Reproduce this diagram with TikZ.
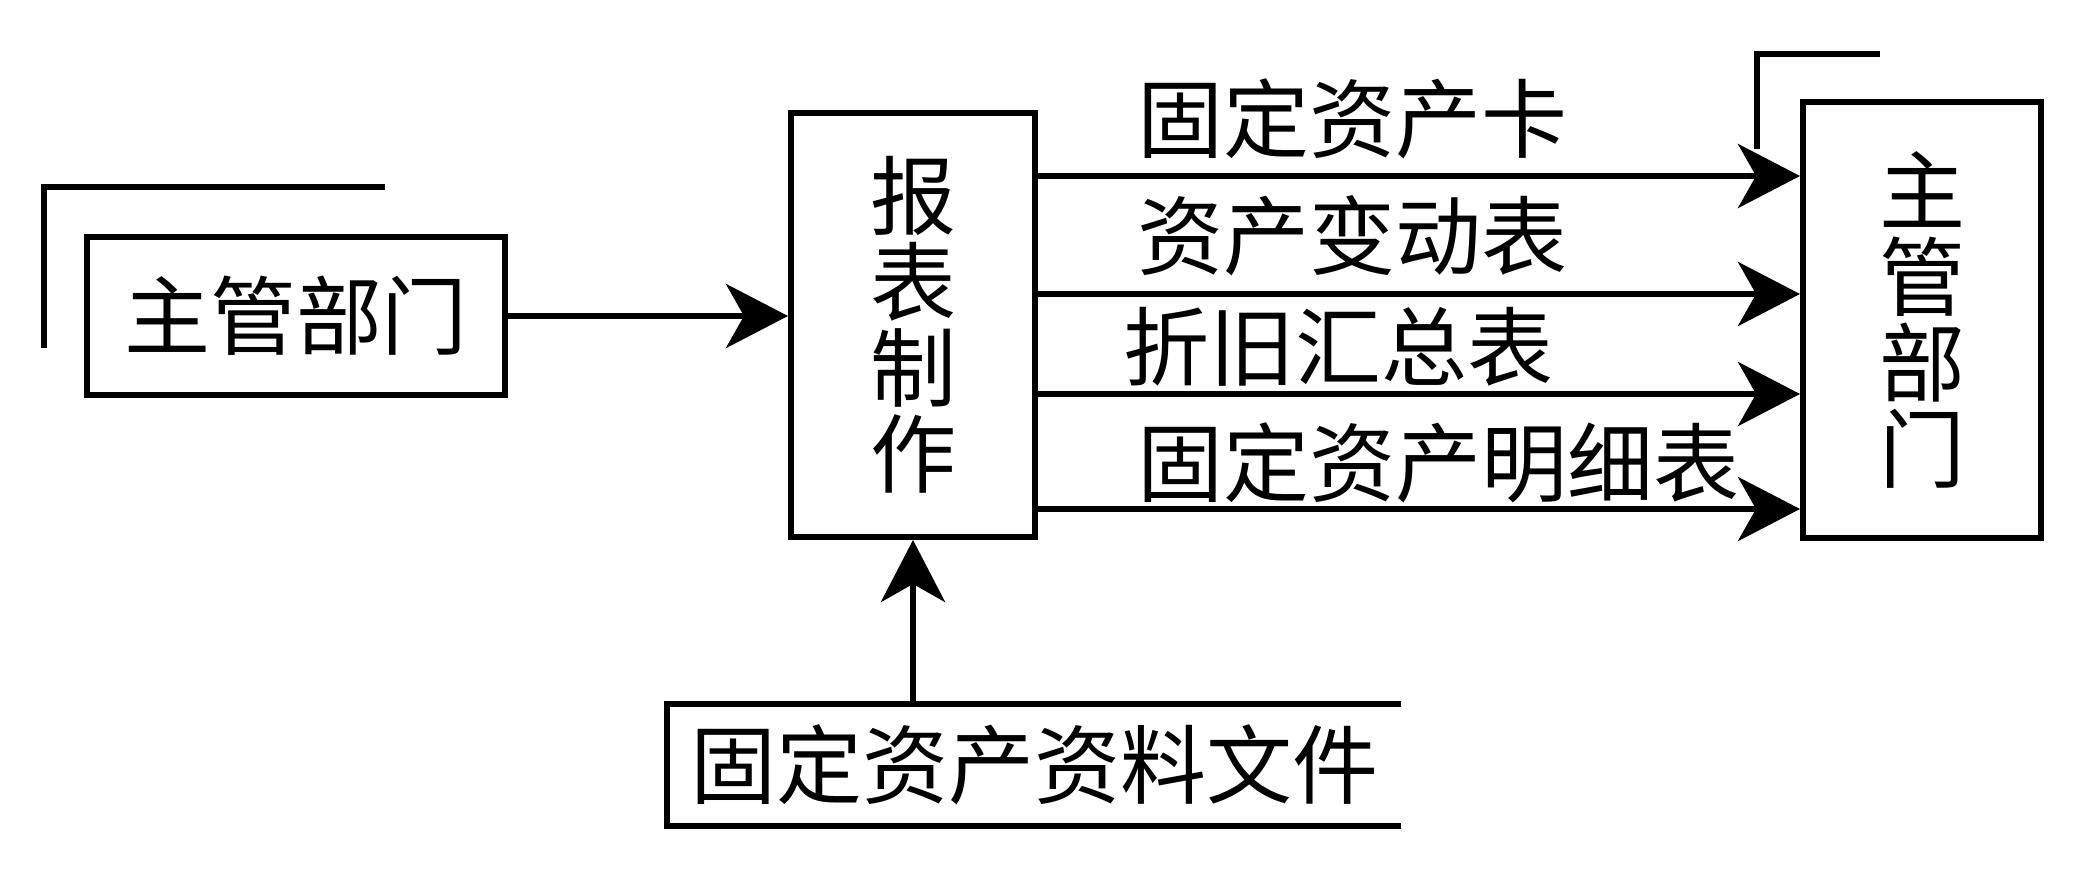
\documentclass[tikz,border=0pt]{standalone}
\usepackage{fontspec}
\newfontfamily\cjk{Noto Sans CJK SC}
\usetikzlibrary{arrows.meta, positioning}

\begin{document}
\begin{tikzpicture}[x=0.5pt, y=-0.5pt, line width=3pt,
  box/.style={draw, inner sep=0pt, align=center, font=\cjk\fontsize{43}{43}\selectfont},
  lbl/.style={inner sep=0pt, anchor=west, font=\cjk\fontsize{43}{43}\selectfont},
  arr/.style={-{Stealth[length=31pt, width=32pt, inset=9pt]}}]
\useasboundingbox (0,0) rectangle (2074,871);
\node[box, minimum width=209pt, minimum height=79pt] (dept) at (296,316) {主管部门};
\node[box, minimum width=122pt, minimum height=212pt] (make) at (913,325) {报\\表\\制\\作};
\node[box, minimum width=119pt, minimum height=218pt] (boss) at (1922,320) {主\\管\\部\\门};
\node[lbl, anchor=center, minimum width=364pt, minimum height=58pt] (doc) at (1034,765) {固定资产资料文件};
\node[lbl] (card) at (1134,119) {固定资产卡};
\node[lbl] (change) at (1134,236) {资产变动表};
\node[lbl] (depr) at (1120,347) {折旧汇总表};
\node[lbl] (detail) at (1134,463) {固定资产明细表};
% store marks
\draw (44,348) -- (44,187) -- (385,187);
\draw (1757,149) -- (1757,54) -- (1880,54);
\draw (doc.north east) -- (doc.north west) -- (doc.south west) -- (doc.south east);
% flows
\draw[arr] (dept) -- (make.west |- dept);
\draw[arr] (make.south |- doc.north) -- (make.south);
\draw[arr] (make.east |- 0,176) -- (boss.west |- 0,176);
\draw[arr] (make.east |- 0,294) -- (boss.west |- 0,294);
\draw[arr] (make.east |- 0,394) -- (boss.west |- 0,394);
\draw[arr] (make.east |- 0,509) -- (boss.west |- 0,509);
\end{tikzpicture}
\end{document}
